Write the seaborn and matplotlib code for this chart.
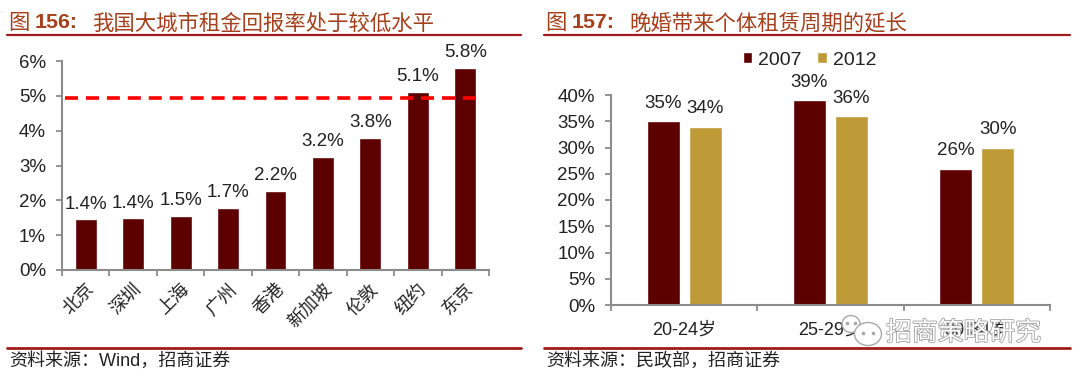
import pandas as pd
import matplotlib
matplotlib.use("Agg")
import matplotlib.pyplot as plt
import matplotlib.patheffects as pe
from matplotlib.patches import Ellipse
import seaborn as sns

# datos del grafico izquierdo
ciudades = ["北京", "深圳", "上海", "广州", "香港", "新加坡", "伦敦", "纽约", "东京"]
retorno = [1.45, 1.48, 1.54, 1.78, 2.28, 3.25, 3.80, 5.12, 5.80]
retorno_txt = ["1.4%", "1.4%", "1.5%", "1.7%", "2.2%", "3.2%", "3.8%", "5.1%", "5.8%"]
linea_ref = 4.95

# datos del grafico derecho
edades = ["20-24岁", "25-29岁", "30-34岁"]
valores_2007 = [35, 39, 26]
valores_2012 = [34, 36, 30]

ROJO = "#5c0000"
ORO = "#bf9b37"
TITULO = "#a5401c"
LINEA = "#a01c1c"
GRIS = "#8c8c8c"
TEXTO = "#222222"

sns.set_theme(style="white")
plt.rcParams["font.family"] = ["Liberation Sans", "Noto Sans CJK SC", "DejaVu Sans"]

W, H = 1080, 379
fig = plt.figure(figsize=(W / 100, H / 100), dpi=100, facecolor="white")


def caja(x0, y0, x1, y1):
    # pixeles de la imagen (y hacia abajo) a coordenadas de figura
    return [x0 / W, 1 - y1 / H, (x1 - x0) / W, (y1 - y0) / H]


def estilo_ejes(ax):
    sns.despine(ax=ax)
    for lado in ["left", "bottom"]:
        ax.spines[lado].set_color(GRIS)
        ax.spines[lado].set_linewidth(1.5)
    ax.tick_params(axis="both", length=4, width=1.3, color=GRIS, labelcolor=TEXTO, left=True, bottom=True)
    ax.tick_params(axis="y", pad=7.5)
    ax.set_xlabel("")
    ax.set_ylabel("")


def encabezado(x0, x1, num, titulo, fuente):
    fig.text((x0 + 2) / W, 1 - 23 / H, "图 ", fontsize=15.4, color=TITULO, va="center", ha="left")
    fig.text((x0 + 28) / W, 1 - 23 / H, f"{num}:", fontsize=15.4, color=TITULO, va="center", ha="left", fontweight="bold")
    fig.text((x0 + 85) / W, 1 - 23 / H, titulo, fontsize=15.4, color=TITULO, va="center", ha="left")
    fig.add_artist(plt.Line2D([x0 / W, x1 / W], [1 - 35 / H] * 2, color=LINEA, lw=1.6))
    fig.add_artist(plt.Line2D([x0 / W, x1 / W], [1 - 348 / H] * 2, color=LINEA, lw=2))
    fig.text((x0 + 2) / W, 1 - 361 / H, fuente, fontsize=13, color=TEXTO, va="center", ha="left")


# ---- grafico 156 ----
ax1 = fig.add_axes(caja(62, 61, 489, 270))
df1 = pd.DataFrame({"ciudad": ciudades, "retorno": retorno})
sns.barplot(data=df1, x="ciudad", y="retorno", color=ROJO, saturation=1, width=0.46, ax=ax1)
ax1.set_xlim(-0.5, len(ciudades) - 0.5)
ax1.set_ylim(0, 6)
ax1.set_yticks(range(7))
ax1.set_yticklabels([f"{i}%" for i in range(7)], fontsize=13.5)
estilo_ejes(ax1)
# marcas entre categorias como en el original
ax1.set_xticks([i - 0.5 for i in range(len(ciudades) + 1)], minor=True)
ax1.tick_params(axis="x", which="minor", length=4, width=1.3, color=GRIS, bottom=True)
ax1.tick_params(axis="x", which="major", length=0, pad=8)
ax1.set_xticks(range(len(ciudades)))
ax1.set_xticklabels(ciudades, rotation=45, ha="right", rotation_mode="anchor", fontsize=13)
ax1.plot([-0.44, 8.25], [linea_ref, linea_ref], color="#ff0000", lw=2.6, ls=(0, (3.6, 2.2)),
         clip_on=False, zorder=5)
for i, (v, t) in enumerate(zip(retorno, retorno_txt)):
    ax1.annotate(t, (i, v), xytext=(0, 5), textcoords="offset points", ha="center", va="bottom",
                 fontsize=13.5, color=TEXTO, annotation_clip=False)
encabezado(7, 521, "156", "我国大城市租金回报率处于较低水平", "资料来源\uff1aWind\uff0c招商证券")

# ---- grafico 157 ----
ax2 = fig.add_axes(caja(611, 95, 1050, 305))
df2 = pd.DataFrame({
    "edad": edades * 2,
    "anio": ["2007"] * 3 + ["2012"] * 3,
    "valor": valores_2007 + valores_2012,
})
sns.barplot(data=df2, x="edad", y="valor", hue="anio", palette=[ROJO, ORO], saturation=1,
            width=0.575, gap=0.21, ax=ax2)
ax2.set_xlim(-0.5, len(edades) - 0.5)
ax2.set_ylim(0, 40)
ax2.set_yticks(range(0, 41, 5))
ax2.set_yticklabels([f"{i}%" for i in range(0, 41, 5)], fontsize=13.5)
estilo_ejes(ax2)
ax2.set_xticks([i - 0.5 for i in range(len(edades) + 1)], minor=True)
ax2.tick_params(axis="x", which="minor", length=4, width=1.3, color=GRIS, bottom=True)
ax2.tick_params(axis="x", which="major", length=0, pad=12)
ax2.set_xticks(range(len(edades)))
ax2.set_xticklabels(edades, fontsize=13)
for cont, vals in zip(ax2.containers, [valores_2007, valores_2012]):
    ax2.bar_label(cont, labels=[f"{v}%" for v in vals], padding=6.5, fontsize=13.5, color=TEXTO)
ax2.legend(loc="upper center", bbox_to_anchor=(0.452, 1.29), ncol=2, frameon=False, fontsize=14,
           handlelength=0.5, handleheight=0.5, handletextpad=0.3, columnspacing=0.8,
           labelcolor=TEXTO)
encabezado(544, 1070, "157", "晚婚带来个体租赁周期的延长", "资料来源\uff1a民政部\uff0c招商证券")

# marca de agua
fondo = fig.add_axes([0, 0, 1, 1], facecolor="none", zorder=10)
fondo.set_xlim(0, W)
fondo.set_ylim(H, 0)
fondo.axis("off")
for cx, cy, ancho, alto in [(851, 324, 18, 17), (868, 334, 27, 23)]:
    fondo.add_patch(Ellipse((cx, cy), ancho, alto, facecolor="white", edgecolor="#a8a8a8", lw=1))
    fondo.plot([cx - ancho / 5, cx + ancho / 5], [cy - 1, cy - 1], ls="", marker="o", ms=1.6, color="#a8a8a8")
fondo.text(886, 333, "招商策略研究", fontsize=18.6, color="white", va="center", ha="left",
           path_effects=[pe.withStroke(linewidth=1.1, foreground="#9a9a9a")])

fig.savefig("out.png", dpi=100)
